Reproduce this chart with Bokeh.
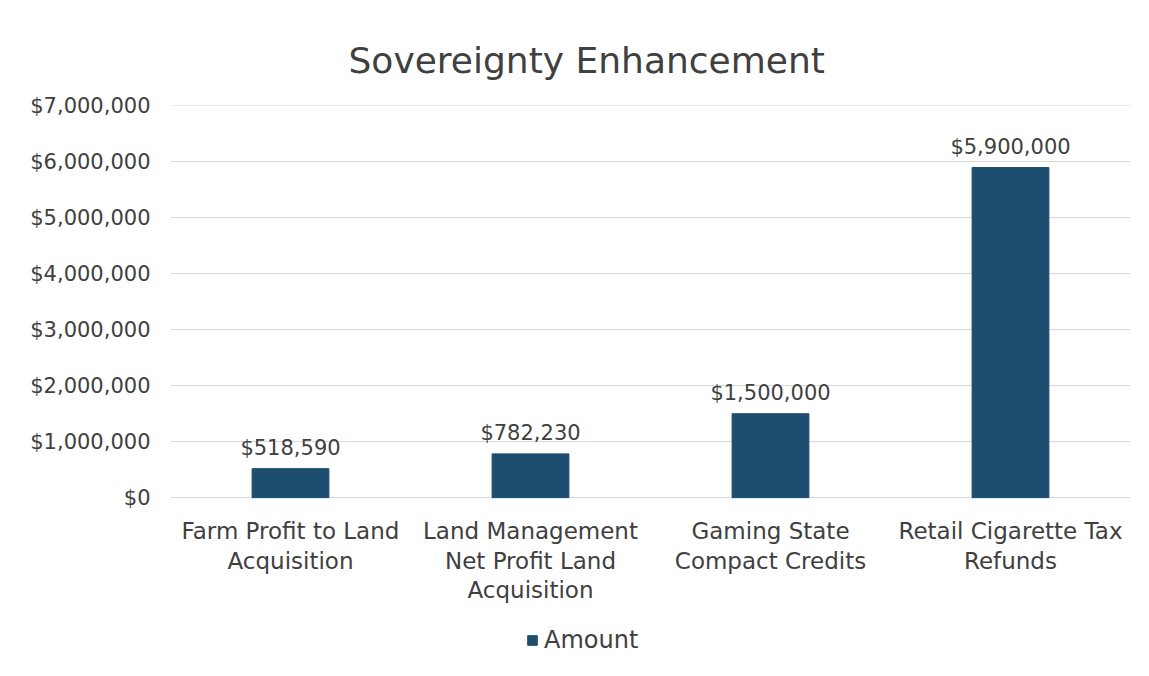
from bokeh.plotting import figure
from bokeh.models import ColumnDataSource, NumeralTickFormatter, Legend, LegendItem, FixedTicker
from bokeh.core.properties import value
from bokeh.embed import file_html
from bokeh.resources import INLINE

categories = ["Farm Profit to Land\nAcquisition",
              "Land Management\nNet Profit Land\nAcquisition",
              "Gaming State\nCompact Credits",
              "Retail Cigarette Tax\nRefunds"]
amounts = [518590, 782230, 1500000, 5900000]
amount_labels = ["$518,590", "$782,230", "$1,500,000", "$5,900,000"]
y_ticks = [0, 1000000, 2000000, 3000000, 4000000, 5000000, 6000000, 7000000]
series_name = "Amount"

FONT = "DejaVu Sans"
TXT = "#404040"
BAR = "#1d4e6f"

src = ColumnDataSource(dict(cat=categories, amt=amounts, lab=amount_labels,
                            base=[0] * len(categories)))

# frame runs from the top gridline down to the bottom of the figure;
# 392 px for 7,000,000 and 163 px below zero for the category labels and legend
Y_TOP = 7000000 * 392.5 / 392
Y_BOT = -7000000 * 163 / 392

p = figure(x_range=categories, y_range=(Y_BOT, Y_TOP), width=1133, height=660,
           output_backend="svg", toolbar_location=None,
           min_border_left=170, min_border_right=3, min_border_top=105, min_border_bottom=0)
p.outline_line_color = None
p.background_fill_color = "white"
p.border_fill_color = "white"

p.title.text = "Sovereignty Enhancement"
p.title.align = "left"
p.title.offset = 178
p.title.text_font = FONT
p.title.text_font_size = "36px"
p.title.text_font_style = "normal"
p.title.text_color = TXT
p.title.standoff = 50

r = p.vbar(x="cat", top="amt", width=0.32, source=src, fill_color=BAR, line_color=BAR)
p.text(x="cat", y="amt", text="lab", source=src, text_align="center", text_baseline="bottom",
       y_offset=-9, text_font_size="21px", text_color=TXT, text_font=value(FONT))
p.text(x="cat", y="base", text="cat", source=src, text_align="center", text_baseline="top",
       y_offset=20, text_font_size="23px", text_color=TXT, text_font=value(FONT),
       text_line_height=1.15)

p.xaxis.visible = False
p.yaxis.ticker = FixedTicker(ticks=y_ticks)
p.yaxis.formatter = NumeralTickFormatter(format="$0,0")
p.yaxis.major_label_text_font = FONT
p.yaxis.major_label_text_font_size = "21px"
p.yaxis.major_label_text_color = TXT
p.yaxis.axis_line_color = None
p.yaxis.major_tick_line_color = None
p.yaxis.major_tick_out = 0
p.yaxis.major_tick_in = 0
p.yaxis.minor_tick_line_color = None
p.yaxis.major_label_standoff = 20

p.xgrid.grid_line_color = None
p.ygrid.ticker = FixedTicker(ticks=y_ticks)
p.ygrid.grid_line_color = "#d9d9d9"
p.ygrid.grid_line_width = 1

legend = Legend(items=[LegendItem(label=series_name, renderers=[r])], orientation="horizontal",
                location=(356, 6), label_text_font=FONT, label_text_font_size="24px",
                label_text_color=TXT, glyph_width=12, glyph_height=12, border_line_color=None,
                background_fill_alpha=0, margin=0, padding=5, label_standoff=6)
p.add_layout(legend)

open("out.html", "w").write(file_html(p, INLINE))
